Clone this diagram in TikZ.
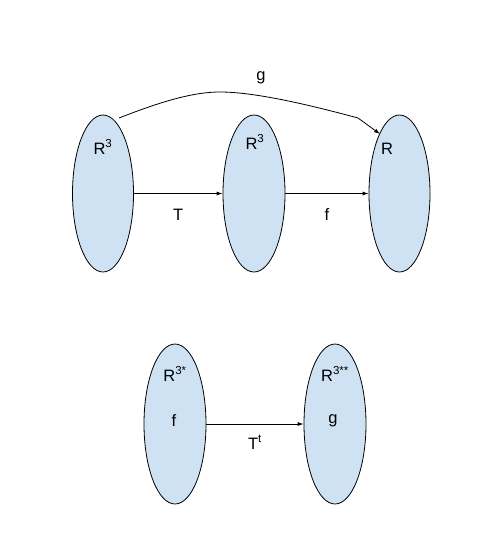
\documentclass[tikz,border=0pt]{standalone}
\usepackage{fontspec}
\setmainfont{Liberation Sans}
\usetikzlibrary{shapes.geometric,arrows.meta}
\definecolor{setfill}{HTML}{CFE2F3}
\begin{document}
\begin{tikzpicture}[x=1pt,y=-1pt,
  setbox/.style={ellipse,draw=black,fill=setfill,line width=0.8pt,inner sep=0pt,minimum width=61pt,minimum height=157pt},
  arr/.style={-{Latex[length=6pt,width=4pt]},line width=0.8pt},
  lbl/.style={font=\fontsize{16.5}{16.5}\selectfont,inner sep=0pt}]
\useasboundingbox (0,0) rectangle (491,554);
\node[setbox] (A) at (103,193.5) {};
\node[setbox,minimum width=62pt] (B) at (254,193.5) {};
\node[setbox] (C) at (399.5,193.5) {};
\node[setbox,minimum width=62pt,minimum height=160pt] (D) at (175,424) {};
\node[setbox,minimum width=62pt,minimum height=160pt] (E) at (335,424) {};
\node[lbl] (a1) at (103,147) {R\textsuperscript{3}};
\node[lbl] (b1) at (255,142) {R\textsuperscript{3}};
\node[lbl] (c1) at (387,149) {R};
\node[lbl] (d1) at (175,374) {R\textsuperscript{3*}};
\node[lbl] (d2) at (174,421) {f};
\node[lbl] (e1) at (335,374) {R\textsuperscript{3**}};
\node[lbl] (e2) at (333,421) {g};
\draw[arr] (A.east) -- (B.west) node[lbl,midway,below=15pt] (t) {T};
\draw[arr] (B.east) -- (C.west) node[lbl,midway,below=15pt] (f) {f};
\draw[arr] (D.east) -- (E.west) node[lbl,midway,below=11pt] (tt) {T\textsuperscript{t}};
\coordinate (gs) at (119,118);
\coordinate (gm) at (358,118);
\coordinate (ge) at (380,134);
\draw[arr] (gs) .. controls (165,100) and (195,92) .. (220,92) .. controls (255,92) and (310,105) .. (gm) -- (ge);
\node[lbl] (g) at (261,78) {g};
\end{tikzpicture}
\end{document}
